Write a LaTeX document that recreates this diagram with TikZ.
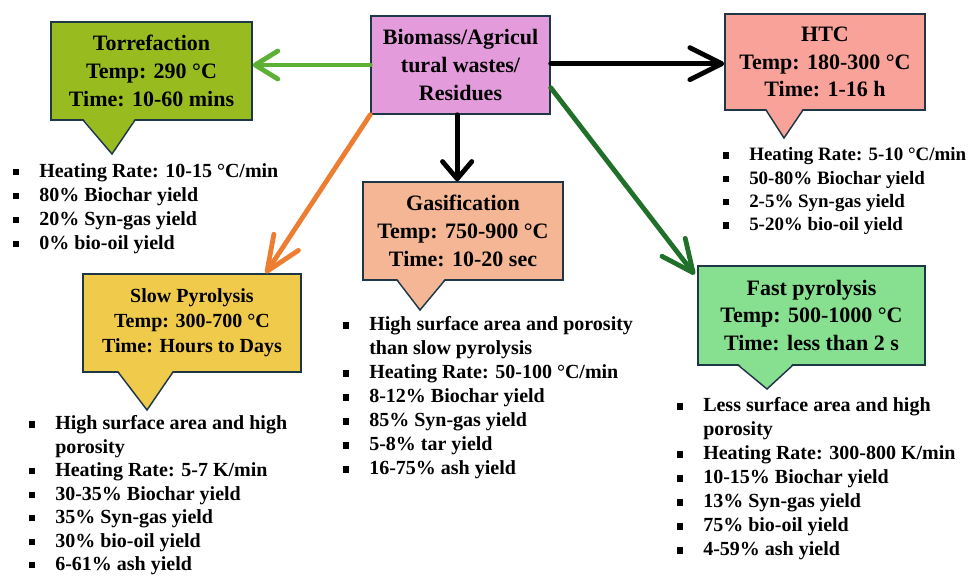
\documentclass[tikz,border=0pt]{standalone}
\usepackage{fontspec}
\setmainfont{Liberation Serif}
\usetikzlibrary{arrows.meta,calc}
\definecolor{edgecol}{RGB}{30,55,70}
\definecolor{torrcol}{RGB}{152,188,32}
\definecolor{biocol}{RGB}{227,155,219}
\definecolor{htccol}{RGB}{248,162,154}
\definecolor{gascol}{RGB}{244,182,148}
\definecolor{slowcol}{RGB}{240,202,75}
\definecolor{fastcol}{RGB}{134,224,143}
\definecolor{lgreen}{RGB}{92,176,52}
\definecolor{orangearr}{RGB}{237,125,49}
\definecolor{dgreen}{RGB}{32,112,42}
\newcommand{\myit}[1]{\makebox[19.5pt][l]{\rule[1.6pt]{4.6pt}{4.6pt}}#1}
\newcommand{\mycont}[1]{\hspace*{19.5pt}#1}
\tikzset{
  procbox/.style={draw=edgecol, line width=1.1pt, inner sep=0pt, align=center,
    font=\bfseries\fontsize{16.5}{20.8}\selectfont},
  ptr/.style={draw=edgecol, line width=1.1pt, line join=miter},
  plist/.style={anchor=north west, inner sep=0pt, align=left, yshift=14pt,
    font=\bfseries\fontsize{15}{18}\selectfont,
    execute at begin node=\rule{0pt}{14pt}},
  flow/.style={line width=3.6pt, line cap=round},
}
\begin{document}
\begin{tikzpicture}[x=0.75pt,y=-0.75pt]
\useasboundingbox (0,0) rectangle (974,580);

% boxes
\node[procbox, fill=torrcol, minimum width=150.75pt, minimum height=73.5pt] (torr) at (151.5,71)
  {Torrefaction\\Temp: 290 °C\\Time: 10-60 mins};
\node[procbox, fill=biocol, minimum width=134.25pt, minimum height=73.5pt] (bio) at (460.5,65)
  {Biomass/Agricul\\tural wastes/\\Residues};
\node[procbox, fill=htccol, minimum width=150pt, minimum height=72pt] (htc) at (825,62)
  {HTC\\Temp: 180-300 °C\\Time: 1-16 h};
\node[procbox, fill=gascol, minimum width=150pt, minimum height=73.5pt] (gas) at (463,231)
  {Gasification\\Temp: 750-900 °C\\Time: 10-20 sec};
\node[procbox, fill=slowcol, minimum width=163.5pt, minimum height=73.5pt,
  font=\bfseries\fontsize{15}{18.6}\selectfont] (slow) at (192,323)
  {Slow Pyrolysis\\Temp: 300-700 °C\\Time: Hours to Days};
\node[procbox, fill=fastcol, minimum width=170.25pt, minimum height=74.25pt] (fast) at (811.5,315.5)
  {Fast pyrolysis\\Temp: 500-1000 °C\\Time: less than 2 s};

% callout pointers
\fill[torrcol] (83,118.5) -- (112,154) -- (135,118.5) -- cycle;
\draw[ptr] (83,120) -- (112,154) -- (135,120);
\fill[htccol] (766,108.5) -- (784,138) -- (803,108.5) -- cycle;
\draw[ptr] (766,110) -- (784,138) -- (803,110);
\fill[gascol] (397,278.5) -- (420,310) -- (445,278.5) -- cycle;
\draw[ptr] (397,280) -- (420,310) -- (445,280);
\fill[slowcol] (118,370.5) -- (147,410) -- (173,370.5) -- cycle;
\draw[ptr] (118,372) -- (147,410) -- (173,372);
\fill[fastcol] (738,363.5) -- (767,389) -- (793,363.5) -- cycle;
\draw[ptr] (738,365) -- (767,389) -- (793,365);

% lists
\node[plist] (torrlist) at (13,182) {\myit{Heating Rate: 10-15 °C/min}\\
  \myit{80\% Biochar yield}\\ \myit{20\% Syn-gas yield}\\ \myit{0\% bio-oil yield}};
\node[plist, font=\bfseries\fontsize{14.2}{17.5}\selectfont] (htclist) at (723,166)
  {\myit{Heating Rate: 5-10 °C/min}\\
  \myit{50-80\% Biochar yield}\\ \myit{2-5\% Syn-gas yield}\\ \myit{5-20\% bio-oil yield}};
\node[plist] (gaslist) at (343,335) {\myit{High surface area and porosity}\\
  \mycont{than slow pyrolysis}\\ \myit{Heating Rate: 50-100 °C/min}\\
  \myit{8-12\% Biochar yield}\\ \myit{85\% Syn-gas yield}\\ \myit{5-8\% tar yield}\\
  \myit{16-75\% ash yield}};
\node[plist, font=\bfseries\fontsize{15}{17.6}\selectfont] (slowlist) at (29,434)
  {\myit{High surface area and high}\\
  \mycont{porosity}\\ \myit{Heating Rate: 5-7 K/min}\\ \myit{30-35\% Biochar yield}\\
  \myit{35\% Syn-gas yield}\\ \myit{30\% bio-oil yield}\\ \myit{6-61\% ash yield}};
\node[plist] (fastlist) at (677,416) {\myit{Less surface area and high}\\
  \mycont{porosity}\\ \myit{Heating Rate: 300-800 K/min}\\ \myit{10-15\% Biochar yield}\\
  \myit{13\% Syn-gas yield}\\ \myit{75\% bio-oil yield}\\ \myit{4-59\% ash yield}};

% connectors
\draw[flow, lgreen, -{Straight Barb[length=17pt,width=21pt,round]}]
  (bio.west) -- (bio.west -| torr.east);
\draw[flow, black, -{Straight Barb[length=24pt,width=24pt,round]}]
  ([yshift=1pt]bio.east) -- ([yshift=1pt]bio.east -| htc.west);
\draw[flow, black, -{Straight Barb[length=13pt,width=22pt,round]}]
  ([xshift=-2.5pt]bio.south) -- ([xshift=-2.5pt]bio.south |- gas.north);
\draw[flow, orangearr, -{Straight Barb[length=26pt,width=22pt,round]}]
  (bio.south west) -- ([xshift=-27pt]slow.north east);
\draw[flow, dgreen, -{Straight Barb[length=24pt,width=22pt,round]}]
  ([yshift=-17pt]bio.east) -- ([xshift=-2pt,yshift=-7pt]fast.north west);
\end{tikzpicture}
\end{document}
